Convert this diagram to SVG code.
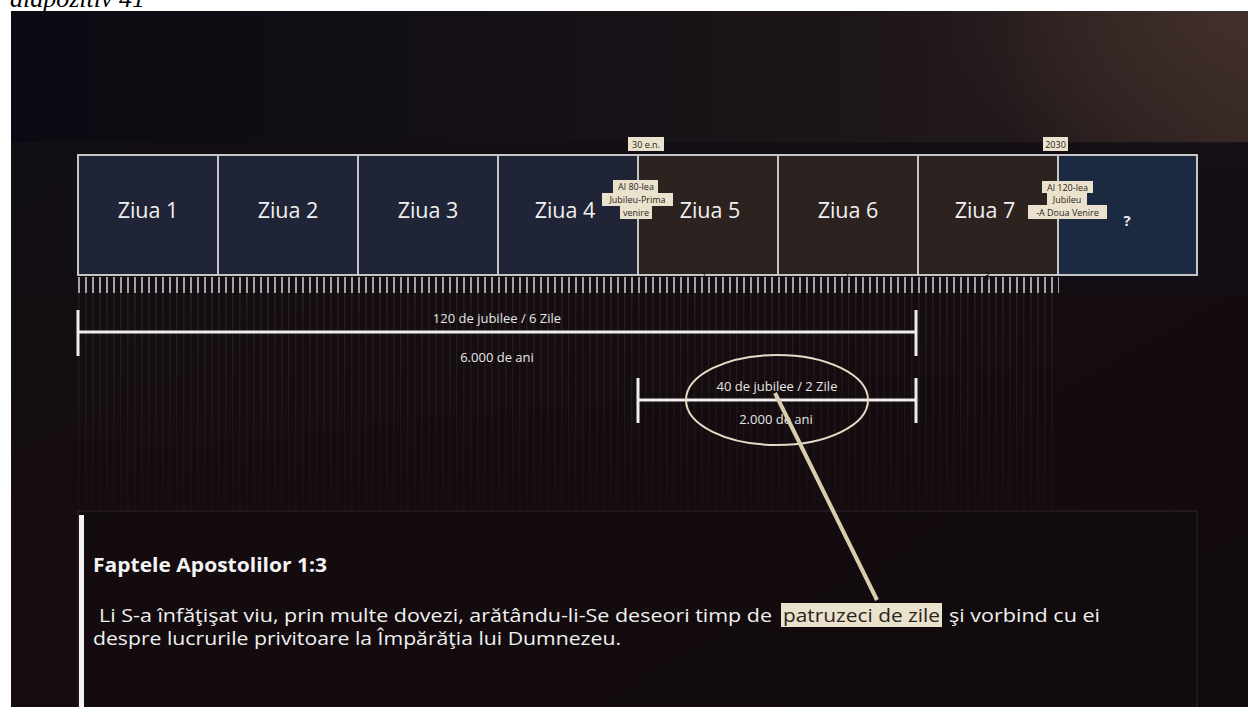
<svg xmlns="http://www.w3.org/2000/svg" width="1248" height="707" viewBox="0 0 1248 707">
  <defs>
    <linearGradient id="bgTop" x1="0" y1="0" x2="1" y2="0">
      <stop offset="0" stop-color="#0b0a12"/>
      <stop offset="0.45" stop-color="#151116"/>
      <stop offset="0.8" stop-color="#21181a"/>
      <stop offset="1" stop-color="#342624"/>
    </linearGradient>
    <linearGradient id="bgBottom" x1="0" y1="0" x2="1" y2="1">
      <stop offset="0" stop-color="#130e13"/>
      <stop offset="0.5" stop-color="#150c0f"/>
      <stop offset="1" stop-color="#120b0e"/>
    </linearGradient>
    <radialGradient id="glowTR" cx="1" cy="0" r="0.6">
      <stop offset="0" stop-color="#45322d" stop-opacity="0.8"/>
      <stop offset="1" stop-color="#45322d" stop-opacity="0"/>
    </radialGradient>
    <linearGradient id="fadeStripes" x1="0" y1="0" x2="0" y2="1">
      <stop offset="0" stop-color="#fff" stop-opacity="1"/>
      <stop offset="1" stop-color="#fff" stop-opacity="0.25"/>
    </linearGradient>
    <pattern id="ticks" x="78" y="0" width="7" height="707" patternUnits="userSpaceOnUse">
      <rect x="0.2" y="0" width="1.6" height="707" fill="#c8c8c8"/>
    </pattern>
    <pattern id="stripes" x="78" y="0" width="7" height="707" patternUnits="userSpaceOnUse">
      <rect x="0" y="0" width="1.5" height="707" fill="#ffffff" fill-opacity="0.07"/>
    </pattern>
    <mask id="stripeMask">
      <rect x="78" y="293" width="980" height="225" fill="url(#fadeStripes)"/>
    </mask>
    <style>
      .day { stroke: #c6c6c6; stroke-width: 2; }
      .blue { fill: #1f2536; }
      .brown { fill: #2c221f; }
      .blue2 { fill: #1b2a40; }
      .dlabel { font-family: "Open Sans", "Noto Sans", sans-serif; font-size: 21.5px; fill: #f2f2f2; text-anchor: middle; }
      .tag { fill: #ebe2cd; }
      .tagtxt { font-family: "Open Sans", "Noto Sans", sans-serif; font-size: 9px; fill: #2a2420; text-anchor: middle; }
      .num { font-family: "Open Sans", "Noto Sans", sans-serif; font-size: 10px; fill: #1a1412; text-anchor: middle; }
      .bracket { stroke: #eeeeee; stroke-width: 3; fill: none; }
      .blabel { font-family: "Open Sans", "Noto Sans", sans-serif; font-size: 13px; fill: #e6e6e6; text-anchor: middle; }
      .body { font-family: "Open Sans", "Noto Sans", sans-serif; font-size: 18px; fill: #f0f0f0; }
    </style>
  </defs>

  <!-- page -->
  <rect x="0" y="0" width="1248" height="707" fill="#ffffff"/>
  <text x="10" y="7" font-family="Liberation Serif, serif" font-style="italic" font-size="26" fill="#000">diapozitiv 41</text>

  <!-- background picture -->
  <rect x="11" y="11" width="1237" height="696" fill="url(#bgBottom)"/>
  <rect x="11" y="11" width="1237" height="132" fill="url(#bgTop)"/>
  <rect x="700" y="11" width="548" height="300" fill="url(#glowTR)"/>
  <rect x="11" y="142" width="1237" height="151" fill="#111015" fill-opacity="0.7"/>
  <rect x="78" y="293" width="980" height="225" fill="url(#stripes)" mask="url(#stripeMask)"/>

  <!-- day boxes -->
  <g id="day1"><rect class="day blue" x="78" y="155" width="140" height="120"/><text class="dlabel" x="148" y="218">Ziua 1</text></g>
  <g id="day2"><rect class="day blue" x="218" y="155" width="140" height="120"/><text class="dlabel" x="288" y="218">Ziua 2</text></g>
  <g id="day3"><rect class="day blue" x="358" y="155" width="140" height="120"/><text class="dlabel" x="428" y="218">Ziua 3</text></g>
  <g id="day4"><rect class="day blue" x="498" y="155" width="140" height="120"/><text class="dlabel" x="565" y="218">Ziua 4</text></g>
  <g id="day5"><rect class="day brown" x="638" y="155" width="140" height="120"/><text class="dlabel" x="710" y="218">Ziua 5</text></g>
  <g id="day6"><rect class="day brown" x="778" y="155" width="140" height="120"/><text class="dlabel" x="848" y="218">Ziua 6</text></g>
  <g id="day7"><rect class="day brown" x="918" y="155" width="140" height="120"/><text class="dlabel" x="985" y="218">Ziua 7</text></g>
  <g id="day8"><rect class="day blue2" x="1058" y="155" width="139" height="120"/><text x="1127" y="226" font-family="Open Sans, Noto Sans, sans-serif" font-size="15" font-weight="bold" fill="#eeeeee" text-anchor="middle">?</text></g>

  <!-- tick scale -->
  <g id="scale">
    <rect x="78" y="277" width="981" height="16" fill="url(#ticks)"/>
    <text class="num" x="704" y="280">1</text>
    <text class="num" x="846" y="280">2</text>
    <text class="num" x="987" y="280">3</text>
  </g>

  <!-- top tags -->
  <g id="tag30">
    <rect class="tag" x="628" y="137" width="36" height="14"/>
    <text class="tagtxt" x="646" y="148">30 e.n.</text>
  </g>
  <g id="tag2030">
    <rect class="tag" x="1043" y="137" width="25" height="14"/>
    <text class="tagtxt" x="1055.5" y="148">2030</text>
  </g>
  <g id="jubilee80">
    <rect class="tag" x="613" y="180" width="45" height="13"/>
    <rect class="tag" x="602" y="193" width="71" height="13"/>
    <rect class="tag" x="620" y="206" width="32" height="13"/>
    <text class="tagtxt" x="636" y="190">Al 80-lea</text>
    <text class="tagtxt" x="637.5" y="203">Jubileu-Prima</text>
    <text class="tagtxt" x="636" y="216">venire</text>
  </g>
  <g id="jubilee120">
    <rect class="tag" x="1042" y="181" width="51" height="12"/>
    <rect class="tag" x="1047" y="193" width="40" height="12"/>
    <rect class="tag" x="1028" y="205" width="79" height="14"/>
    <text class="tagtxt" x="1067.5" y="191">Al 120-lea</text>
    <text class="tagtxt" x="1067" y="203">Jubileu</text>
    <text class="tagtxt" x="1067.5" y="216">-A  Doua Venire</text>
  </g>

  <!-- bracket 120 jubilee -->
  <g id="span120">
    <path class="bracket" d="M78 310 V356 M78 332 H916 M916 310 V356"/>
    <text class="blabel" x="497" y="323">120 de jubilee / 6 Zile</text>
    <text class="blabel" x="497" y="362">6.000 de ani</text>
  </g>

  <!-- bracket 40 jubilee -->
  <g id="span40">
    <path class="bracket" d="M638 378 V423 M638 400 H916 M916 378 V423"/>
    <text class="blabel" x="777" y="391">40 de jubilee / 2 Zile</text>
    <text class="blabel" x="776" y="424">2.000 de ani</text>
    <ellipse cx="777" cy="400" rx="91" ry="45" fill="none" stroke="#e4dcc6" stroke-width="2"/>
  </g>

  <!-- scripture box -->
  <g id="scripture">
    <rect x="78" y="511" width="1119" height="200" fill="#130b0e" fill-opacity="0.6" stroke="#2e2629" stroke-width="1"/>
    <rect x="79" y="515" width="5" height="192" fill="#f4f4f4"/>
    <text x="93" y="572" font-family="Open Sans, Noto Sans, sans-serif" font-size="19.5" font-weight="bold" fill="#f4f4f4" textLength="234" lengthAdjust="spacingAndGlyphs">Faptele Apostolilor 1:3</text>
    <rect x="781" y="603" width="161" height="24" fill="#ebe2cd"/>
    <text class="body" x="99" y="622" textLength="673" lengthAdjust="spacingAndGlyphs">Li S-a înfăţişat viu, prin multe dovezi, arătându-li-Se deseori timp de</text>
    <text class="body" x="783" y="622" textLength="157" lengthAdjust="spacingAndGlyphs" style="fill:#2a2420">patruzeci de zile</text>
    <text class="body" x="949" y="622" textLength="151" lengthAdjust="spacingAndGlyphs">şi vorbind cu ei</text>
    <text class="body" x="93" y="645" textLength="528" lengthAdjust="spacingAndGlyphs">despre lucrurile privitoare la Împărăţia lui Dumnezeu.</text>
  </g>

  <!-- connectors -->
  <g id="connectors">
    <line x1="775" y1="393" x2="877" y2="600" stroke="#dacdae" stroke-width="4"/>
  </g>
</svg>
